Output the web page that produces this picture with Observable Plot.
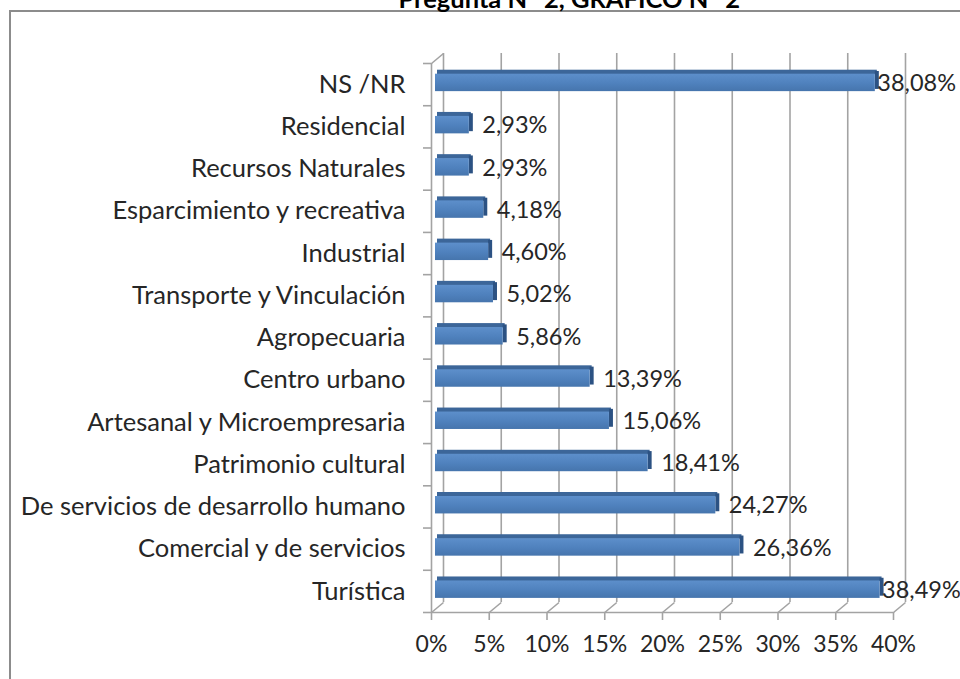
<!DOCTYPE html>
<html>
<head>
<meta charset="utf-8">
<script src="https://cdn.jsdelivr.net/npm/d3@7"></script>
<script src="https://cdn.jsdelivr.net/npm/@observablehq/plot@0.6"></script>
<style>
  html, body { margin: 0; padding: 0; background: #fff; }
  #wrap { position: relative; width: 960px; height: 679px; overflow: hidden; background: #fff; }
  #frame { position: absolute; left: 9px; top: 10px; width: 2000px; height: 2000px; border: 2px solid #8c8c8c; box-sizing: border-box; }
  #chart { position: absolute; left: 0; top: 0; }
</style>
</head>
<body>
<div id="wrap"><div id="frame"></div><div id="chart"></div></div>
<script>
const title = "Pregunta N° 2, GRÁFICO N° 2";
const categories = [
  "Turística",
  "Comercial y de servicios",
  "De servicios de desarrollo humano",
  "Patrimonio cultural",
  "Artesanal y Microempresaria",
  "Centro urbano",
  "Agropecuaria",
  "Transporte y Vinculación",
  "Industrial",
  "Esparcimiento y recreativa",
  "Recursos Naturales",
  "Residencial",
  "NS /NR"
];
const values = [38.49, 26.36, 24.27, 18.41, 15.06, 13.39, 5.86, 5.02, 4.60, 4.18, 2.93, 2.93, 38.08];
const xTicks = [0, 5, 10, 15, 20, 25, 30, 35, 40];

const data = categories.map((c, i) => ({c, v: values[i], i}));
const fmt = v => v.toFixed(2).replace(".", ",") + "%";

// 3D depth of the wall / floor, in data units
const DX = 12 * 40 / 462;
const DY = 10 * 13 / 549;
const grid = "#a3a3a3";
const gw = 1.6;

const defs = () => {
  const s = d3.create("svg:defs");
  const g = s.append("linearGradient").attr("id", "barGrad").attr("x1", 0).attr("y1", 0).attr("x2", 0).attr("y2", 1);
  g.append("stop").attr("offset", "0%").attr("stop-color", "#5d8fcb");
  g.append("stop").attr("offset", "55%").attr("stop-color", "#4f81bd");
  g.append("stop").attr("offset", "100%").attr("stop-color", "#4675ad");
  return s.node();
};

const chart = Plot.plot({
  width: 960,
  height: 679,
  marginLeft: 431,
  marginRight: 67,
  marginTop: 63,
  marginBottom: 67,
  style: {fontFamily: "Lato", fontSize: "23px", color: "#262626", background: "transparent", overflow: "visible"},
  x: {domain: [0, 40]},
  y: {domain: [0, 13]},
  marks: [
    defs,
    // back wall gridlines
    Plot.ruleX(xTicks, {dx: 12, dy: -10, stroke: grid, strokeWidth: gw}),
    // front left wall
    Plot.ruleX([0], {stroke: grid, strokeWidth: gw}),
    // floor front edge
    Plot.ruleY([0], {stroke: grid, strokeWidth: gw}),
    // floor slants
    Plot.link(xTicks, {x1: d => d, y1: 0, x2: d => d + DX, y2: DY, stroke: grid, strokeWidth: gw}),
    // top slant of left wall
    Plot.link([13], {x1: 0, y1: d => d, x2: DX, y2: d => d + DY, stroke: grid, strokeWidth: gw}),
    // axes
    Plot.axisX({ticks: xTicks, tickSize: 8, tickPadding: 15, tickFormat: d => d + "%", stroke: grid, strokeWidth: gw, fill: "#262626", label: null, fontSize: 23}),
    Plot.axisY({ticks: d3.range(14), tickSize: 8, tickFormat: () => "", stroke: grid, strokeWidth: gw, label: null}),
    Plot.axisY({ticks: d3.range(13).map(i => i + 0.5), tickSize: 0, tickPadding: 26, tickFormat: d => categories[Math.round(d - 0.5)], fill: "#262626", label: null, fontSize: 25.5}),
    // bars: top face
    Plot.rect(data, {x1: 0, x2: "v", y1: "i", y2: d => d.i + 1, insetTop: 10.2, insetBottom: 27.4, dx: 6, dy: -3.5, fill: "#3c6699"}),
    // bars: end face
    Plot.rect(data, {x1: "v", x2: "v", y1: "i", y2: d => d.i + 1, insetTop: 11.5, insetBottom: 12.8, insetRight: -4, dx: 4, dy: -3.5, fill: "#2c5283"}),
    // bars: front face
    Plot.rect(data, {x1: 0, x2: "v", y1: "i", y2: d => d.i + 1, insetTop: 14.2, insetBottom: 10.6, dx: 4, dy: -3.5, fill: "url(#barGrad)"}),
    // value labels
    Plot.text(data.filter(d => d.v < 35), {x: "v", y: d => d.i + 0.5, text: d => fmt(d.v), textAnchor: "start", dx: 17, dy: -1, fill: "#262626", fontSize: 23.5}),
    Plot.text(data.filter(d => d.v >= 35), {x: "v", y: d => d.i + 0.5, text: d => fmt(d.v), textAnchor: "start", dx: 6, dy: -1, fill: "#262626", fontSize: 23.5}),
    // title (clipped at the top like the reference)
    Plot.text([title], {frameAnchor: "top-left", text: d => d, textAnchor: "start", lineAnchor: "bottom", dx: -33, dy: -56, fontWeight: "bold", fontSize: 25.5, fill: "#000"})
  ]
});
document.getElementById("chart").appendChild(chart);
</script>
</body>
</html>
